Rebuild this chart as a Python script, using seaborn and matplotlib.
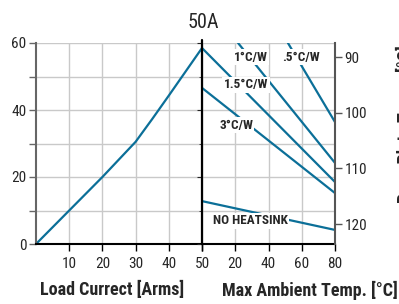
import matplotlib
matplotlib.use("Agg")
import matplotlib.pyplot as plt
import pandas as pd
import seaborn as sns

# power dissipation vs load current (left panel)
current = [0, 10, 20, 30, 35, 40, 45, 50]
power = [0, 10, 20, 30.5, 37.3, 44.3, 51.4, 58.5]

# derating lines: power vs max ambient temp (right panel)
curve_names = [".5°C/W", "1°C/W", "1.5°C/W", "3°C/W", "NO HEATSINK"]
curve_ambient = [[51.7, 80], [21.7, 80], [0, 80], [0, 80], [0, 80]]
curve_power = [[60, 36.4], [60, 24.2], [58.5, 18.5], [46.6, 15.2], [12.8, 4.2]]
label_ambient = [59.6, 29.5, 26.5, 20.5, 29]
label_power = [55.8, 55.8, 47.5, 35.5, 6.9]

current_ticks = [10, 20, 30, 40, 50]
ambient_ticks = [0, 20, 40, 60, 80]
ambient_ticklabels = ["", "20", "40", "60", "80"]
power_ticks = [0, 20, 40, 60]
power_minor = [10, 30, 50]
plate_ticks = [90, 100, 110, 120]

sns.set_style("white")
plt.rcParams["font.family"] = ["Liberation Sans Narrow", "Roboto Condensed",
                               "DejaVu Sans Condensed", "Roboto", "DejaVu Sans"]

blue = "#0b6f98"
grid_c = "#c9c9c9"
tick_fs = 11

fig = plt.figure(figsize=(3.99, 3.04), dpi=100)
W, H = 399, 304
x0, x50, x80 = 36, 202, 335
ytop, ybot = 43, 244
ax = fig.add_axes([x0 / W, 1 - ybot / H, (x50 - x0) / W, (ybot - ytop) / H])
ax2 = fig.add_axes([x50 / W, 1 - ybot / H, (x80 - x50) / W, (ybot - ytop) / H])

# left panel
left_df = pd.DataFrame({"current": current, "power": power})
sns.lineplot(data=left_df, x="current", y="power", ax=ax, color=blue, lw=1.6,
             clip_on=False)
ax.set_xlim(0, 50)
ax.set_ylim(0, 60)
ax.set_xticks(current_ticks)
ax.set_yticks(power_ticks)
ax.set_yticks(power_minor, minor=True)
ax.grid(True, which="both", color=grid_c, lw=1)
ax.set_axisbelow(True)
ax.set_xlabel("")
ax.set_ylabel("")
ax.tick_params(axis="y", which="both", length=5, width=1, color="#666666",
               labelsize=tick_fs, pad=2, left=True)
ax.tick_params(axis="x", length=5, width=1, color="black", labelsize=tick_fs,
               pad=4, bottom=True)
for s in ["top", "right"]:
    ax.spines[s].set_visible(False)
ax.spines["left"].set_color("#666666")
ax.spines["left"].set_linewidth(1.5)
ax.spines["bottom"].set_color("black")
ax.spines["bottom"].set_linewidth(1.5)

# right panel
rows = []
for name, xs, ys in zip(curve_names, curve_ambient, curve_power):
    for xv, yv in zip(xs, ys):
        rows.append({"curve": name, "ambient": xv, "power": yv})
right_df = pd.DataFrame(rows)
sns.lineplot(data=right_df, x="ambient", y="power", hue="curve",
             palette=[blue] * len(curve_names), ax=ax2, lw=1.6, legend=False)
for name, lx, ly in zip(curve_names, label_ambient, label_power):
    ax2.text(lx, ly, name, ha="center", va="center", fontsize=9.5,
             fontweight="bold", zorder=5,
             bbox=dict(facecolor="white", edgecolor="none", pad=1))
ax2.set_xlim(0, 80)
ax2.set_ylim(0, 60)
ax2.set_xticks(ambient_ticks)
ax2.set_xticklabels(ambient_ticklabels)
ax2.set_yticks(power_ticks)
ax2.set_yticks(power_minor, minor=True)
ax2.grid(True, which="both", color=grid_c, lw=1)
ax2.set_axisbelow(True)
ax2.set_xlabel("")
ax2.set_ylabel("")
ax2.tick_params(axis="y", which="both", left=False, labelleft=False)
ax2.tick_params(axis="x", length=5, width=1, color="black", labelsize=tick_fs,
                pad=4, bottom=True)
for s in ["top", "right", "left"]:
    ax2.spines[s].set_visible(False)
ax2.spines["bottom"].set_color("black")
ax2.spines["bottom"].set_linewidth(1.5)

# secondary temperature axis on the right
ax3 = ax2.twinx()
ax3.set_ylim(123.6, 87.4)
ax3.set_yticks(plate_ticks)
ax3.tick_params(axis="y", length=5, width=1, color="#555555",
                labelsize=tick_fs, pad=2)
for s in ["top", "left", "bottom"]:
    ax3.spines[s].set_visible(False)
ax3.spines["right"].set_color("#555555")
ax3.spines["right"].set_linewidth(1.5)
ax3.grid(False)

# divider between panels
ax2.axvline(0, ymin=0, ymax=1.015, color="black", lw=1.6, clip_on=False,
            zorder=4)

fig.text(203 / W, 1 - 22 / H, "50A", ha="center", va="center", fontsize=14.5)
fig.text(112 / W, 1 - 290 / H, "Load Currect [Arms]", ha="center",
         va="center", fontsize=13, fontweight="bold")
fig.text(310 / W, 1 - 290 / H, "Max Ambient Temp. [°C]", ha="center",
         va="center", fontsize=13, fontweight="bold")
# right-hand axis title, cut off by the image edge as in the source
fig.text(396 / W, 1 - 124 / H, "Base Plate Temp. [°C]", rotation=90,
         ha="left", va="center", fontsize=13, fontweight="bold")

fig.savefig("out.png", dpi=100)
